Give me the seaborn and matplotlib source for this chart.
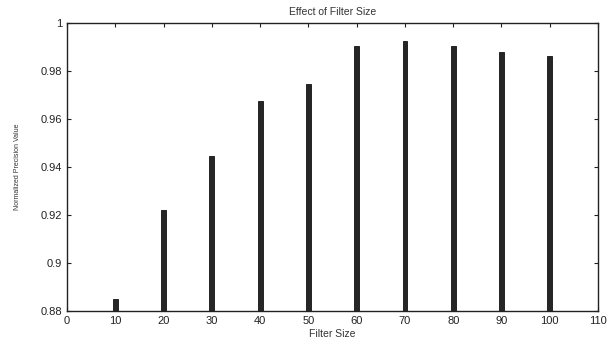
import numpy as np
import pandas as pd
import matplotlib
matplotlib.use("Agg")
import matplotlib.pyplot as plt
import seaborn as sns

# values
filter_size = [10, 20, 30, 40, 50, 60, 70, 80, 90, 100]
precision = [0.885, 0.9222, 0.9445, 0.9675, 0.9748, 0.9905, 0.9925, 0.9906, 0.9878, 0.9862]

df = pd.DataFrame({"filter_size": filter_size, "precision": precision})

sns.set_style("ticks")
plt.rcParams["font.family"] = ["Liberation Sans", "DejaVu Sans"]

fig = plt.figure(figsize=(6.09, 3.44), dpi=100)
ax = fig.add_axes([0.110, 0.096, 0.872, 0.837])

sns.barplot(x="filter_size", y="precision", data=df, native_scale=True,
            width=0.1, color="#262626", edgecolor="#111111", linewidth=0.6,
            saturation=1, ax=ax)

ax.set_xlim(0, 110)
ax.set_ylim(0.88, 1.0)
ax.set_xticks(np.arange(0, 111, 10))
ax.set_yticks([0.88, 0.9, 0.92, 0.94, 0.96, 0.98, 1.0])
ax.set_yticklabels(["0.88", "0.9", "0.92", "0.94", "0.96", "0.98", "1"])

ax.tick_params(direction="in", length=3, width=0.8, labelsize=8,
               colors="#222222", top=True, right=True)
for s in ax.spines.values():
    s.set_visible(True)
    s.set_linewidth(1.0)
    s.set_color("#222222")

ax.set_title("Effect of Filter Size", fontsize=7.5, color="#333333", pad=6)
ax.set_xlabel("Filter Size", fontsize=7.5, color="#333333", labelpad=2)
ax.set_ylabel("Normalized Precision Value", fontsize=5, color="#333333", labelpad=14)

fig.savefig("out.png", dpi=100)
